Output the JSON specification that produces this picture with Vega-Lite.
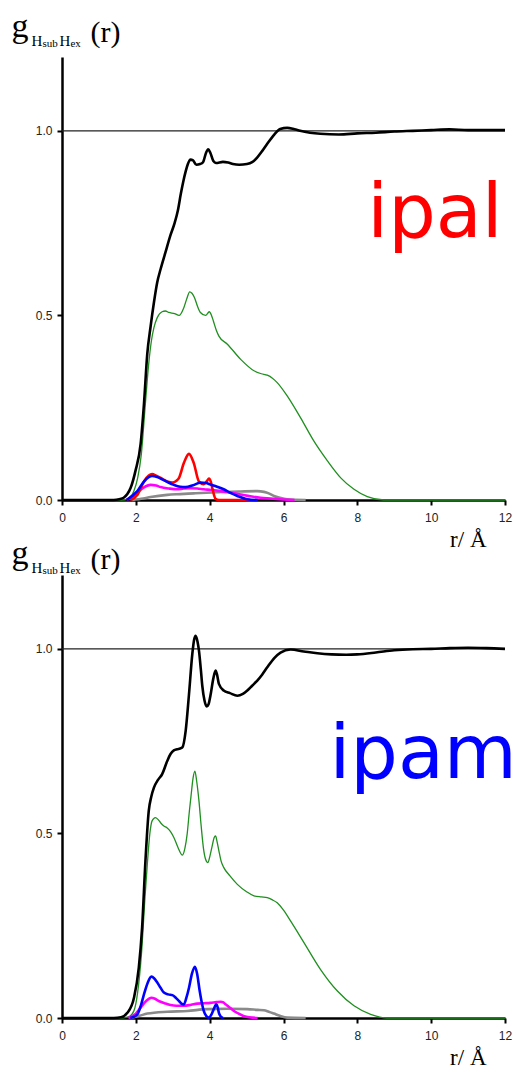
{
  "$schema": "https://vega.github.io/schema/vega-lite/v6.json",
  "background": "white",
  "padding": {"left": 11, "top": 9, "right": 0, "bottom": 0},
  "bounds": "flush",
  "spacing": 75,
  "config": {
    "view": {"stroke": null},
    "axis": {"grid": false, "domainColor": "black", "domainWidth": 2.5, "tickColor": "black", "tickWidth": 2, "tickSize": 5, "labelFont": "Liberation Sans", "labelFontSize": 12, "labelColor": "#222", "labelFlush": false},
    "axisX": {"labelPadding": 7},
    "axisY": {"labelPadding": 5}
  },
  "datasets": {
    "ipal": [
      {"s":"p1","r":0,"g":0},{"s":"p1","r":1.6,"g":0},{"s":"p1","r":1.8,"g":0.004},{"s":"p1","r":1.95,"g":0.025},{"s":"p1","r":2.05,"g":0.06},{"s":"p1","r":2.15,"g":0.125},{"s":"p1","r":2.25,"g":0.25},{"s":"p1","r":2.35,"g":0.37},{"s":"p1","r":2.42,"g":0.43},{"s":"p1","r":2.49,"g":0.467},{"s":"p1","r":2.58,"g":0.494},{"s":"p1","r":2.71,"g":0.51},{"s":"p1","r":2.8,"g":0.512},{"s":"p1","r":2.89,"g":0.508},{"s":"p1","r":3.05,"g":0.505},{"s":"p1","r":3.17,"g":0.5},{"s":"p1","r":3.3,"g":0.521},{"s":"p1","r":3.38,"g":0.545},{"s":"p1","r":3.46,"g":0.564},{"s":"p1","r":3.52,"g":0.56},{"s":"p1","r":3.59,"g":0.548},{"s":"p1","r":3.67,"g":0.525},{"s":"p1","r":3.75,"g":0.508},{"s":"p1","r":3.89,"g":0.5},{"s":"p1","r":3.99,"g":0.51},{"s":"p1","r":4.05,"g":0.5},{"s":"p1","r":4.1,"g":0.485},{"s":"p1","r":4.18,"g":0.46},{"s":"p1","r":4.25,"g":0.444},{"s":"p1","r":4.48,"g":0.422},{"s":"p1","r":4.84,"g":0.381},{"s":"p1","r":5.2,"g":0.35},{"s":"p1","r":5.4,"g":0.342},{"s":"p1","r":5.56,"g":0.338},{"s":"p1","r":5.7,"g":0.33},{"s":"p1","r":5.83,"g":0.318},{"s":"p1","r":6.1,"g":0.282},{"s":"p1","r":6.46,"g":0.223},{"s":"p1","r":6.82,"g":0.16},{"s":"p1","r":7.19,"g":0.106},{"s":"p1","r":7.55,"g":0.06},{"s":"p1","r":7.91,"g":0.029},{"s":"p1","r":8.27,"g":0.009},{"s":"p1","r":8.72,"g":0},{"s":"p1","r":12,"g":0},
      {"s":"total","r":0,"g":0},{"s":"total","r":1.4,"g":0},{"s":"total","r":1.55,"g":0.002},{"s":"total","r":1.67,"g":0.006},{"s":"total","r":1.77,"g":0.016},{"s":"total","r":1.86,"g":0.033},{"s":"total","r":1.99,"g":0.079},{"s":"total","r":2.13,"g":0.152},{"s":"total","r":2.22,"g":0.26},{"s":"total","r":2.31,"g":0.396},{"s":"total","r":2.4,"g":0.47},{"s":"total","r":2.49,"g":0.535},{"s":"total","r":2.58,"g":0.59},{"s":"total","r":2.67,"g":0.625},{"s":"total","r":2.8,"g":0.67},{"s":"total","r":2.93,"g":0.715},{"s":"total","r":3.05,"g":0.75},{"s":"total","r":3.14,"g":0.785},{"s":"total","r":3.22,"g":0.83},{"s":"total","r":3.28,"g":0.86},{"s":"total","r":3.35,"g":0.89},{"s":"total","r":3.41,"g":0.91},{"s":"total","r":3.48,"g":0.922},{"s":"total","r":3.55,"g":0.92},{"s":"total","r":3.64,"g":0.908},{"s":"total","r":3.74,"g":0.91},{"s":"total","r":3.82,"g":0.915},{"s":"total","r":3.9,"g":0.94},{"s":"total","r":3.96,"g":0.95},{"s":"total","r":4.02,"g":0.94},{"s":"total","r":4.1,"g":0.918},{"s":"total","r":4.17,"g":0.913},{"s":"total","r":4.36,"g":0.916},{"s":"total","r":4.5,"g":0.914},{"s":"total","r":4.63,"g":0.91},{"s":"total","r":4.8,"g":0.908},{"s":"total","r":5.01,"g":0.91},{"s":"total","r":5.15,"g":0.915},{"s":"total","r":5.28,"g":0.927},{"s":"total","r":5.42,"g":0.945},{"s":"total","r":5.56,"g":0.965},{"s":"total","r":5.75,"g":0.99},{"s":"total","r":5.91,"g":1.005},{"s":"total","r":6.1,"g":1.008},{"s":"total","r":6.3,"g":1.004},{"s":"total","r":6.45,"g":1.0},{"s":"total","r":6.72,"g":0.995},{"s":"total","r":7.0,"g":0.992},{"s":"total","r":7.5,"g":0.99},{"s":"total","r":8.0,"g":0.993},{"s":"total","r":8.5,"g":0.995},{"s":"total","r":9.0,"g":0.998},{"s":"total","r":9.5,"g":1.0},{"s":"total","r":10.0,"g":1.002},{"s":"total","r":10.5,"g":1.004},{"s":"total","r":11.0,"g":1.002},{"s":"total","r":11.5,"g":1.002},{"s":"total","r":12,"g":1.002},
      {"s":"p5","r":1.9,"g":0},{"s":"p5","r":2.2,"g":0.004},{"s":"p5","r":2.4,"g":0.008},{"s":"p5","r":2.85,"g":0.014},{"s":"p5","r":3.2,"g":0.016},{"s":"p5","r":3.57,"g":0.018},{"s":"p5","r":4.21,"g":0.021},{"s":"p5","r":4.84,"g":0.023},{"s":"p5","r":5.29,"g":0.024},{"s":"p5","r":5.47,"g":0.022},{"s":"p5","r":5.6,"g":0.018},{"s":"p5","r":5.74,"g":0.011},{"s":"p5","r":5.9,"g":0.006},{"s":"p5","r":6.1,"g":0.002},{"s":"p5","r":6.6,"g":0},
      {"s":"p4","r":1.75,"g":0},{"s":"p4","r":2.04,"g":0.02},{"s":"p4","r":2.2,"g":0.033},{"s":"p4","r":2.4,"g":0.041},{"s":"p4","r":2.55,"g":0.039},{"s":"p4","r":2.67,"g":0.035},{"s":"p4","r":2.9,"g":0.031},{"s":"p4","r":3.12,"g":0.029},{"s":"p4","r":3.3,"g":0.031},{"s":"p4","r":3.48,"g":0.032},{"s":"p4","r":3.66,"g":0.031},{"s":"p4","r":3.84,"g":0.029},{"s":"p4","r":4.05,"g":0.027},{"s":"p4","r":4.3,"g":0.024},{"s":"p4","r":4.55,"g":0.02},{"s":"p4","r":4.84,"g":0.015},{"s":"p4","r":5.1,"g":0.01},{"s":"p4","r":5.38,"g":0.006},{"s":"p4","r":5.65,"g":0.004},{"s":"p4","r":5.92,"g":0.002},{"s":"p4","r":6.3,"g":0},
      {"s":"p2","r":1.85,"g":0},{"s":"p2","r":2.05,"g":0.015},{"s":"p2","r":2.22,"g":0.05},{"s":"p2","r":2.35,"g":0.066},{"s":"p2","r":2.44,"g":0.07},{"s":"p2","r":2.55,"g":0.066},{"s":"p2","r":2.67,"g":0.06},{"s":"p2","r":2.85,"g":0.05},{"s":"p2","r":2.99,"g":0.047},{"s":"p2","r":3.1,"g":0.052},{"s":"p2","r":3.17,"g":0.06},{"s":"p2","r":3.3,"g":0.1},{"s":"p2","r":3.44,"g":0.125},{"s":"p2","r":3.57,"g":0.1},{"s":"p2","r":3.71,"g":0.05},{"s":"p2","r":3.84,"g":0.043},{"s":"p2","r":3.93,"g":0.052},{"s":"p2","r":3.98,"g":0.058},{"s":"p2","r":4.03,"g":0.05},{"s":"p2","r":4.07,"g":0.033},{"s":"p2","r":4.16,"g":0.003},{"s":"p2","r":4.25,"g":0},{"s":"p2","r":5.1,"g":0},
      {"s":"p3","r":1.75,"g":0},{"s":"p3","r":2.04,"g":0.024},{"s":"p3","r":2.22,"g":0.05},{"s":"p3","r":2.35,"g":0.062},{"s":"p3","r":2.44,"g":0.065},{"s":"p3","r":2.58,"g":0.062},{"s":"p3","r":2.71,"g":0.056},{"s":"p3","r":2.87,"g":0.048},{"s":"p3","r":3.03,"g":0.041},{"s":"p3","r":3.2,"g":0.036},{"s":"p3","r":3.35,"g":0.035},{"s":"p3","r":3.55,"g":0.04},{"s":"p3","r":3.75,"g":0.047},{"s":"p3","r":3.9,"g":0.046},{"s":"p3","r":4.02,"g":0.042},{"s":"p3","r":4.2,"g":0.036},{"s":"p3","r":4.38,"g":0.029},{"s":"p3","r":4.55,"g":0.02},{"s":"p3","r":4.75,"g":0.011},{"s":"p3","r":5.02,"g":0.002},{"s":"p3","r":5.3,"g":0}
    ],
    "ipam": [
      {"s":"p1","r":0,"g":0},{"s":"p1","r":1.6,"g":0},{"s":"p1","r":1.8,"g":0.003},{"s":"p1","r":1.95,"g":0.02},{"s":"p1","r":2.05,"g":0.07},{"s":"p1","r":2.15,"g":0.17},{"s":"p1","r":2.25,"g":0.33},{"s":"p1","r":2.31,"g":0.415},{"s":"p1","r":2.38,"g":0.5},{"s":"p1","r":2.44,"g":0.534},{"s":"p1","r":2.53,"g":0.543},{"s":"p1","r":2.6,"g":0.538},{"s":"p1","r":2.67,"g":0.529},{"s":"p1","r":2.76,"g":0.52},{"s":"p1","r":2.85,"g":0.515},{"s":"p1","r":2.94,"g":0.505},{"s":"p1","r":3.03,"g":0.489},{"s":"p1","r":3.15,"g":0.46},{"s":"p1","r":3.26,"g":0.441},{"s":"p1","r":3.33,"g":0.46},{"s":"p1","r":3.39,"g":0.498},{"s":"p1","r":3.45,"g":0.56},{"s":"p1","r":3.5,"g":0.606},{"s":"p1","r":3.55,"g":0.65},{"s":"p1","r":3.6,"g":0.669},{"s":"p1","r":3.65,"g":0.64},{"s":"p1","r":3.71,"g":0.588},{"s":"p1","r":3.77,"g":0.52},{"s":"p1","r":3.83,"g":0.461},{"s":"p1","r":3.89,"g":0.43},{"s":"p1","r":3.95,"g":0.421},{"s":"p1","r":4.01,"g":0.44},{"s":"p1","r":4.07,"g":0.467},{"s":"p1","r":4.12,"g":0.488},{"s":"p1","r":4.16,"g":0.493},{"s":"p1","r":4.2,"g":0.478},{"s":"p1","r":4.25,"g":0.453},{"s":"p1","r":4.31,"g":0.425},{"s":"p1","r":4.38,"g":0.408},{"s":"p1","r":4.55,"g":0.385},{"s":"p1","r":4.75,"g":0.362},{"s":"p1","r":5.0,"g":0.342},{"s":"p1","r":5.2,"g":0.331},{"s":"p1","r":5.4,"g":0.328},{"s":"p1","r":5.56,"g":0.326},{"s":"p1","r":5.7,"g":0.32},{"s":"p1","r":5.83,"g":0.312},{"s":"p1","r":6.0,"g":0.292},{"s":"p1","r":6.19,"g":0.263},{"s":"p1","r":6.55,"g":0.205},{"s":"p1","r":7.0,"g":0.132},{"s":"p1","r":7.46,"g":0.073},{"s":"p1","r":7.91,"g":0.033},{"s":"p1","r":8.36,"g":0.01},{"s":"p1","r":8.81,"g":0},{"s":"p1","r":12,"g":0},
      {"s":"total","r":0,"g":0},{"s":"total","r":1.4,"g":0},{"s":"total","r":1.6,"g":0.002},{"s":"total","r":1.77,"g":0.014},{"s":"total","r":1.95,"g":0.055},{"s":"total","r":2.08,"g":0.136},{"s":"total","r":2.17,"g":0.245},{"s":"total","r":2.26,"g":0.425},{"s":"total","r":2.35,"g":0.561},{"s":"total","r":2.42,"g":0.6},{"s":"total","r":2.49,"g":0.624},{"s":"total","r":2.6,"g":0.645},{"s":"total","r":2.71,"g":0.66},{"s":"total","r":2.85,"g":0.696},{"s":"total","r":2.94,"g":0.715},{"s":"total","r":3.03,"g":0.725},{"s":"total","r":3.12,"g":0.728},{"s":"total","r":3.2,"g":0.73},{"s":"total","r":3.26,"g":0.733},{"s":"total","r":3.35,"g":0.778},{"s":"total","r":3.44,"g":0.877},{"s":"total","r":3.53,"g":0.986},{"s":"total","r":3.58,"g":1.025},{"s":"total","r":3.62,"g":1.035},{"s":"total","r":3.67,"g":1.02},{"s":"total","r":3.71,"g":0.995},{"s":"total","r":3.76,"g":0.945},{"s":"total","r":3.8,"g":0.9},{"s":"total","r":3.86,"g":0.86},{"s":"total","r":3.92,"g":0.844},{"s":"total","r":3.97,"g":0.85},{"s":"total","r":4.02,"g":0.873},{"s":"total","r":4.1,"g":0.92},{"s":"total","r":4.16,"g":0.941},{"s":"total","r":4.2,"g":0.93},{"s":"total","r":4.25,"g":0.905},{"s":"total","r":4.38,"g":0.887},{"s":"total","r":4.55,"g":0.88},{"s":"total","r":4.75,"g":0.873},{"s":"total","r":4.9,"g":0.878},{"s":"total","r":5.02,"g":0.887},{"s":"total","r":5.15,"g":0.9},{"s":"total","r":5.29,"g":0.914},{"s":"total","r":5.42,"g":0.93},{"s":"total","r":5.56,"g":0.95},{"s":"total","r":5.75,"g":0.975},{"s":"total","r":5.92,"g":0.99},{"s":"total","r":6.19,"g":0.998},{"s":"total","r":6.55,"g":0.993},{"s":"total","r":6.92,"g":0.988},{"s":"total","r":7.3,"g":0.985},{"s":"total","r":7.7,"g":0.984},{"s":"total","r":8.0,"g":0.985},{"s":"total","r":8.5,"g":0.99},{"s":"total","r":9.0,"g":0.996},{"s":"total","r":9.5,"g":0.999},{"s":"total","r":10.0,"g":1.0},{"s":"total","r":10.5,"g":1.002},{"s":"total","r":11.0,"g":1.003},{"s":"total","r":11.5,"g":1.002},{"s":"total","r":12,"g":1.0},
      {"s":"p5","r":1.85,"g":0},{"s":"p5","r":2.1,"g":0.006},{"s":"p5","r":2.31,"g":0.012},{"s":"p5","r":2.85,"g":0.017},{"s":"p5","r":3.39,"g":0.019},{"s":"p5","r":3.93,"g":0.024},{"s":"p5","r":4.48,"g":0.025},{"s":"p5","r":5.02,"g":0.024},{"s":"p5","r":5.3,"g":0.022},{"s":"p5","r":5.47,"g":0.021},{"s":"p5","r":5.6,"g":0.017},{"s":"p5","r":5.74,"g":0.012},{"s":"p5","r":5.9,"g":0.006},{"s":"p5","r":6.1,"g":0.001},{"s":"p5","r":6.6,"g":0},
      {"s":"p4","r":1.8,"g":0},{"s":"p4","r":2.0,"g":0.012},{"s":"p4","r":2.13,"g":0.028},{"s":"p4","r":2.28,"g":0.046},{"s":"p4","r":2.42,"g":0.055},{"s":"p4","r":2.52,"g":0.052},{"s":"p4","r":2.62,"g":0.046},{"s":"p4","r":2.78,"g":0.04},{"s":"p4","r":2.94,"g":0.035},{"s":"p4","r":3.1,"g":0.033},{"s":"p4","r":3.3,"g":0.033},{"s":"p4","r":3.5,"g":0.036},{"s":"p4","r":3.66,"g":0.039},{"s":"p4","r":3.85,"g":0.04},{"s":"p4","r":4.02,"g":0.041},{"s":"p4","r":4.18,"g":0.043},{"s":"p4","r":4.3,"g":0.044},{"s":"p4","r":4.37,"g":0.042},{"s":"p4","r":4.43,"g":0.037},{"s":"p4","r":4.55,"g":0.028},{"s":"p4","r":4.66,"g":0.019},{"s":"p4","r":4.8,"g":0.011},{"s":"p4","r":4.93,"g":0.005},{"s":"p4","r":5.3,"g":0},
      {"s":"p3","r":1.85,"g":0},{"s":"p3","r":2.04,"g":0.01},{"s":"p3","r":2.14,"g":0.035},{"s":"p3","r":2.22,"g":0.064},{"s":"p3","r":2.32,"g":0.095},{"s":"p3","r":2.42,"g":0.112},{"s":"p3","r":2.5,"g":0.107},{"s":"p3","r":2.58,"g":0.096},{"s":"p3","r":2.67,"g":0.082},{"s":"p3","r":2.76,"g":0.069},{"s":"p3","r":2.88,"g":0.064},{"s":"p3","r":2.99,"g":0.062},{"s":"p3","r":3.08,"g":0.055},{"s":"p3","r":3.17,"g":0.046},{"s":"p3","r":3.25,"g":0.038},{"s":"p3","r":3.3,"g":0.037},{"s":"p3","r":3.37,"g":0.055},{"s":"p3","r":3.44,"g":0.082},{"s":"p3","r":3.52,"g":0.12},{"s":"p3","r":3.6,"g":0.139},{"s":"p3","r":3.66,"g":0.12},{"s":"p3","r":3.73,"g":0.073},{"s":"p3","r":3.79,"g":0.04},{"s":"p3","r":3.84,"g":0.019},{"s":"p3","r":3.91,"g":0.005},{"s":"p3","r":3.98,"g":0.001},{"s":"p3","r":4.05,"g":0.01},{"s":"p3","r":4.11,"g":0.024},{"s":"p3","r":4.18,"g":0.037},{"s":"p3","r":4.22,"g":0.028},{"s":"p3","r":4.25,"g":0.014},{"s":"p3","r":4.3,"g":0.004},{"s":"p3","r":4.36,"g":0}
    ]
  },
  "vconcat": [
    {
      "width": 443, "height": 443,
      "layer": [
        {"data": {"values": [{"level": 1}]}, "mark": {"type": "rule", "color": "#222", "strokeWidth": 1.2},
         "encoding": {"y": {"field": "level", "type": "quantitative", "scale": {"domain": [0, 1.2], "nice": false}}}},
        {"data": {"name": "ipal"}, "transform": [{"filter": "datum.s === 'p1'"}],
         "mark": {"type": "line", "interpolate": "monotone", "strokeWidth": 1.3},
         "encoding": {
           "x": {"field": "r", "type": "quantitative", "scale": {"domain": [0, 12], "nice": false},
                 "axis": {"values": [0, 2, 4, 6, 8, 10, 12], "format": "d", "title": "r/ Å", "titleFont": "Liberation Serif", "titleFontSize": 23, "titleFontWeight": "normal", "titleColor": "black", "titleAlign": "right", "titleX": 424, "titleY": 46, "titleBaseline": "alphabetic"}},
           "y": {"field": "g", "type": "quantitative", "scale": {"domain": [0, 1.2], "nice": false},
                 "axis": {"values": [0, 0.5, 1], "format": ".1f", "title": null}},
           "color": {"field": "s", "type": "nominal", "scale": {"domain": ["total", "p1", "p2", "p3", "p4", "p5"], "range": ["#000000", "#1f8f1f", "#ff0000", "#0000ff", "#ff00ff", "#8a8a8a"]}, "legend": null}
         }},
        {"data": {"name": "ipal"}, "transform": [{"filter": "datum.s !== 'p1'"}],
         "mark": {"type": "line", "interpolate": "monotone", "strokeWidth": 2.6},
         "encoding": {
           "x": {"field": "r", "type": "quantitative", "scale": {"domain": [0, 12], "nice": false}},
           "y": {"field": "g", "type": "quantitative", "scale": {"domain": [0, 1.2], "nice": false}},
           "color": {"field": "s", "type": "nominal", "scale": {"domain": ["total", "p1", "p2", "p3", "p4", "p5"], "range": ["#000000", "#1f8f1f", "#ff0000", "#0000ff", "#ff00ff", "#8a8a8a"]}, "legend": null}
         }},
        {"data": {"values": [{"t": "ipal"}]}, "mark": {"type": "text", "font": "DejaVu Sans", "fontSize": 75, "align": "left", "baseline": "alphabetic", "color": "#ff0000"},
         "encoding": {"text": {"field": "t"}, "x": {"datum": 8.27, "type": "quantitative"}, "y": {"datum": 0.7124, "type": "quantitative"}}},
        {"data": {"values": [{"t": "g"}]}, "mark": {"type": "text", "font": "Liberation Serif", "fontSize": 34, "align": "left", "baseline": "alphabetic", "color": "black"},
         "encoding": {"text": {"field": "t"}, "x": {"datum": -1.366, "type": "quantitative"}, "y": {"datum": 1.2547, "type": "quantitative"}}},
        {"data": {"values": [{"t": "H"}]}, "mark": {"type": "text", "font": "Liberation Serif", "fontSize": 15, "align": "left", "baseline": "alphabetic", "color": "black"},
         "encoding": {"text": {"field": "t"}, "x": {"datum": -0.826, "type": "quantitative"}, "y": {"datum": 1.2304, "type": "quantitative"}}},
        {"data": {"values": [{"t": "sub"}]}, "mark": {"type": "text", "font": "Liberation Serif", "fontSize": 11, "align": "left", "baseline": "alphabetic", "color": "black"},
         "encoding": {"text": {"field": "t"}, "x": {"datum": -0.528, "type": "quantitative"}, "y": {"datum": 1.2276, "type": "quantitative"}}},
        {"data": {"values": [{"t": "H"}]}, "mark": {"type": "text", "font": "Liberation Serif", "fontSize": 15, "align": "left", "baseline": "alphabetic", "color": "black"},
         "encoding": {"text": {"field": "t"}, "x": {"datum": -0.068, "type": "quantitative"}, "y": {"datum": 1.2304, "type": "quantitative"}}},
        {"data": {"values": [{"t": "ex"}]}, "mark": {"type": "text", "font": "Liberation Serif", "fontSize": 11, "align": "left", "baseline": "alphabetic", "color": "black"},
         "encoding": {"text": {"field": "t"}, "x": {"datum": 0.23, "type": "quantitative"}, "y": {"datum": 1.2276, "type": "quantitative"}}},
        {"data": {"values": [{"t": "(r)"}]}, "mark": {"type": "text", "font": "Liberation Serif", "fontSize": 30, "align": "left", "baseline": "alphabetic", "color": "black"},
         "encoding": {"text": {"field": "t"}, "x": {"datum": 0.771, "type": "quantitative"}, "y": {"datum": 1.2412, "type": "quantitative"}}}
      ]
    },
    {
      "width": 443, "height": 443,
      "layer": [
        {"data": {"values": [{"level": 1}]}, "mark": {"type": "rule", "color": "#222", "strokeWidth": 1.2},
         "encoding": {"y": {"field": "level", "type": "quantitative", "scale": {"domain": [0, 1.2], "nice": false}}}},
        {"data": {"name": "ipam"}, "transform": [{"filter": "datum.s === 'p1'"}],
         "mark": {"type": "line", "interpolate": "monotone", "strokeWidth": 1.3},
         "encoding": {
           "x": {"field": "r", "type": "quantitative", "scale": {"domain": [0, 12], "nice": false},
                 "axis": {"values": [0, 2, 4, 6, 8, 10, 12], "format": "d", "title": "r/ Å", "titleFont": "Liberation Serif", "titleFontSize": 23, "titleFontWeight": "normal", "titleColor": "black", "titleAlign": "right", "titleX": 424, "titleY": 46, "titleBaseline": "alphabetic"}},
           "y": {"field": "g", "type": "quantitative", "scale": {"domain": [0, 1.2], "nice": false},
                 "axis": {"values": [0, 0.5, 1], "format": ".1f", "title": null}},
           "color": {"field": "s", "type": "nominal", "scale": {"domain": ["total", "p1", "p2", "p3", "p4", "p5"], "range": ["#000000", "#1f8f1f", "#ff0000", "#0000ff", "#ff00ff", "#8a8a8a"]}, "legend": null}
         }},
        {"data": {"name": "ipam"}, "transform": [{"filter": "datum.s !== 'p1'"}],
         "mark": {"type": "line", "interpolate": "monotone", "strokeWidth": 2.6},
         "encoding": {
           "x": {"field": "r", "type": "quantitative", "scale": {"domain": [0, 12], "nice": false}},
           "y": {"field": "g", "type": "quantitative", "scale": {"domain": [0, 1.2], "nice": false}},
           "color": {"field": "s", "type": "nominal", "scale": {"domain": ["total", "p1", "p2", "p3", "p4", "p5"], "range": ["#000000", "#1f8f1f", "#ff0000", "#0000ff", "#ff00ff", "#8a8a8a"]}, "legend": null}
         }},
        {"data": {"values": [{"t": "ipam"}]}, "mark": {"type": "text", "font": "DejaVu Sans", "fontSize": 75, "align": "left", "baseline": "alphabetic", "color": "#0000ff"},
         "encoding": {"text": {"field": "t"}, "x": {"datum": 7.245, "type": "quantitative"}, "y": {"datum": 0.65, "type": "quantitative"}}},
        {"data": {"values": [{"t": "g"}]}, "mark": {"type": "text", "font": "Liberation Serif", "fontSize": 34, "align": "left", "baseline": "alphabetic", "color": "black"},
         "encoding": {"text": {"field": "t"}, "x": {"datum": -1.366, "type": "quantitative"}, "y": {"datum": 1.2303, "type": "quantitative"}}},
        {"data": {"values": [{"t": "H"}]}, "mark": {"type": "text", "font": "Liberation Serif", "fontSize": 15, "align": "left", "baseline": "alphabetic", "color": "black"},
         "encoding": {"text": {"field": "t"}, "x": {"datum": -0.826, "type": "quantitative"}, "y": {"datum": 1.206, "type": "quantitative"}}},
        {"data": {"values": [{"t": "sub"}]}, "mark": {"type": "text", "font": "Liberation Serif", "fontSize": 11, "align": "left", "baseline": "alphabetic", "color": "black"},
         "encoding": {"text": {"field": "t"}, "x": {"datum": -0.528, "type": "quantitative"}, "y": {"datum": 1.2032, "type": "quantitative"}}},
        {"data": {"values": [{"t": "H"}]}, "mark": {"type": "text", "font": "Liberation Serif", "fontSize": 15, "align": "left", "baseline": "alphabetic", "color": "black"},
         "encoding": {"text": {"field": "t"}, "x": {"datum": -0.068, "type": "quantitative"}, "y": {"datum": 1.206, "type": "quantitative"}}},
        {"data": {"values": [{"t": "ex"}]}, "mark": {"type": "text", "font": "Liberation Serif", "fontSize": 11, "align": "left", "baseline": "alphabetic", "color": "black"},
         "encoding": {"text": {"field": "t"}, "x": {"datum": 0.23, "type": "quantitative"}, "y": {"datum": 1.2032, "type": "quantitative"}}},
        {"data": {"values": [{"t": "(r)"}]}, "mark": {"type": "text", "font": "Liberation Serif", "fontSize": 30, "align": "left", "baseline": "alphabetic", "color": "black"},
         "encoding": {"text": {"field": "t"}, "x": {"datum": 0.771, "type": "quantitative"}, "y": {"datum": 1.2168, "type": "quantitative"}}}
      ]
    }
  ]
}
